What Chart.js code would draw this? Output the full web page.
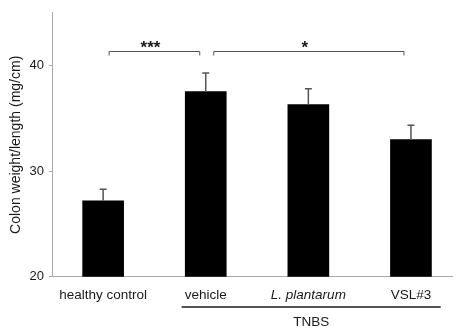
<!DOCTYPE html>
<html>
<head>
<meta charset="utf-8">
<script src="https://cdn.jsdelivr.net/npm/chart.js"></script>
<style>
  html, body { margin: 0; padding: 0; background: #fff; }
  #wrap { width: 456px; height: 330px; }
</style>
</head>
<body>
<div id="wrap"><canvas id="colonChart"></canvas></div>
<script>
// Colon weight/length per group (mean and SEM)
const groups = ['healthy control', 'vehicle', 'L. plantarum', 'VSL#3'];
const means = [27.2, 37.55, 36.3, 33.0];
const sems = [1.1, 1.75, 1.5, 1.35];
const yTicks = [20, 30, 40];

// significance brackets between groups
const comparisons = [
  { from: 0, to: 1, label: '***' },
  { from: 1, to: 3, label: '*' }
];
const treatmentLabel = 'TNBS';

const font = 'Liberation Sans, Arial, sans-serif';
const axisGrey = '#a9a9a9';
const ink = '#1a1a1a';

const annotations = {
  id: 'annotations',
  afterDatasetsDraw(chart) {
    const ctx = chart.ctx;
    const x = chart.scales.x;
    const y = chart.scales.y;
    const meta = chart.getDatasetMeta(0);

    // upward error bars
    ctx.save();
    ctx.strokeStyle = '#555';
    ctx.lineWidth = 1.5;
    meta.data.forEach((bar, i) => {
      const top = y.getPixelForValue(means[i] + sems[i]);
      ctx.beginPath();
      ctx.moveTo(bar.x, bar.y);
      ctx.lineTo(bar.x, top);
      ctx.moveTo(bar.x - 3.5, top);
      ctx.lineTo(bar.x + 3.5, top);
      ctx.stroke();
    });
    ctx.restore();

    // brackets with stars
    ctx.save();
    const by = Math.round(y.getPixelForValue(41.4)) + 0.5;
    comparisons.forEach((c, k) => {
      const x1 = x.getPixelForValue(c.from) + (k === 0 ? 6 : 8);
      const x2 = x.getPixelForValue(c.to) - (k === 0 ? 6 : 7);
      ctx.strokeStyle = '#555';
      ctx.lineWidth = 1;
      ctx.beginPath();
      ctx.moveTo(x1, by + 4);
      ctx.lineTo(x1, by);
      ctx.lineTo(x2, by);
      ctx.lineTo(x2, by + 4);
      ctx.stroke();
      ctx.fillStyle = ink;
      ctx.font = 'bold 17px ' + font;
      ctx.textAlign = 'center';
      ctx.textBaseline = 'alphabetic';
      ctx.fillText(c.label, (x1 + x2) / 2 - 4, by + 1);
    });
    ctx.restore();

    // treatment group underline
    ctx.save();
    const lx1 = x.getPixelForValue(0.765);
    const lx2 = x.getPixelForValue(3.29);
    const ly = 307;
    ctx.strokeStyle = ink;
    ctx.lineWidth = 1.6;
    ctx.beginPath();
    ctx.moveTo(lx1, ly);
    ctx.lineTo(lx2, ly);
    ctx.stroke();
    ctx.fillStyle = ink;
    ctx.font = '13.5px ' + font;
    ctx.textAlign = 'center';
    ctx.textBaseline = 'middle';
    ctx.fillText(treatmentLabel, (lx1 + lx2) / 2, 322);
    ctx.restore();
  }
};

new Chart(document.getElementById('colonChart'), {
  type: 'bar',
  data: {
    datasets: [{
      data: means.map((m, i) => ({ x: i, y: m })),
      backgroundColor: '#000',
      borderWidth: 0,
      barThickness: 41
    }]
  },
  options: {
    responsive: true,
    maintainAspectRatio: false,
    animation: false,
    layout: { padding: { left: 3.6, right: 4, top: 10, bottom: 25 } },
    plugins: {
      legend: { display: false },
      tooltip: { enabled: false }
    },
    scales: {
      x: {
        type: 'linear',
        offset: false,
        min: -0.49,
        max: 3.4,
        grid: { display: false, offset: false },
        border: { color: axisGrey, width: 1 },
        afterBuildTicks: (scale) => { scale.ticks = groups.map((g, i) => ({ value: i })); },
        ticks: {
          padding: 2,
          maxRotation: 0,
          autoSkip: false,
          color: ink,
          font: (c) => ({ family: font, size: 13.5, style: c.index === 2 ? 'italic' : 'normal' }),
          callback: (v) => groups[v]
        }
      },
      y: {
        min: 20,
        max: 45,
        grid: { drawOnChartArea: false, tickLength: 4, color: axisGrey },
        border: { color: axisGrey, width: 1 },
        afterBuildTicks: (scale) => { scale.ticks = yTicks.map(v => ({ value: v })); },
        ticks: {
          padding: 5,
          color: ink,
          font: { family: font, size: 13 }
        },
        title: {
          display: true,
          text: 'Colon weight/length (mg/cm)',
          color: ink,
          font: { family: font, size: 14 },
          padding: { top: 4, bottom: 0 }
        }
      }
    }
  },
  plugins: [annotations]
});
</script>
</body>
</html>
